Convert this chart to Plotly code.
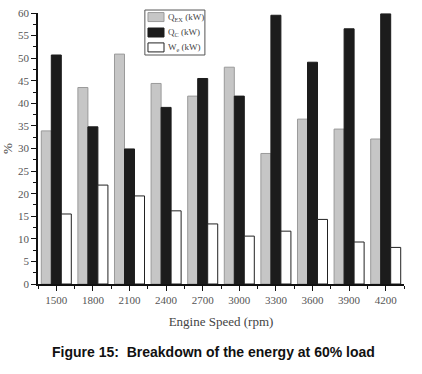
import plotly.graph_objects as go

speeds = [1500, 1800, 2100, 2400, 2700, 3000, 3300, 3600, 3900, 4200]
q_ex = [33.9, 43.5, 50.9, 44.4, 41.6, 48.0, 28.9, 36.5, 34.3, 32.1]
q_c = [50.7, 34.8, 29.9, 39.1, 45.5, 41.6, 59.5, 49.1, 56.5, 59.8]
w_e = [15.5, 21.9, 19.5, 16.2, 13.3, 10.6, 11.7, 14.3, 9.3, 8.1]
y_ticks = [0, 5, 10, 15, 20, 25, 30, 35, 40, 45, 50, 55, 60]
series_names = ["Q<sub>EX</sub> (kW)", "Q<sub>C</sub> (kW)", "W<sub>e</sub> (kW)"]
series_fill = ["#c6c6c6", "#1c1c1c", "#ffffff"]
series_line = ["#9a9a9a", "#1c1c1c", "#222222"]

serif = "Liberation Serif, Times New Roman, serif"

fig = go.Figure()
for vals, name, fc, lc in zip([q_ex, q_c, w_e], series_names, series_fill, series_line):
    fig.add_trace(go.Bar(x=speeds, y=vals, name=name,
                         marker=dict(color=fc, line=dict(color=lc, width=1))))

fig.update_layout(
    width=422, height=374,
    margin=dict(l=38, r=18, t=13, b=90),
    paper_bgcolor="white", plot_bgcolor="white",
    barmode="group", bargap=0.18, bargroupgap=0,
    font=dict(family=serif, size=11, color="#444"),
    showlegend=False,
)
fig.update_xaxes(
    range=[1350, 4350], tickmode="array", tickvals=speeds,
    ticktext=[str(s) for s in speeds], automargin=False,
    showline=True, linecolor="#111", linewidth=1.5,
    ticks="outside", ticklen=5, tickcolor="#111", tickwidth=1.2,
    minor=dict(tickmode="linear", tick0=1350, dtick=300, ticks="outside",
               ticklen=3, tickcolor="#111", tickwidth=1),
    showgrid=False, zeroline=False,
    tickfont=dict(family=serif, size=11, color="#555"),
    title=dict(text="Engine Speed (rpm)", font=dict(family=serif, size=13, color="#444"), standoff=12),
)
fig.update_yaxes(
    range=[0, 60], tickmode="array", tickvals=y_ticks, automargin=False,
    showline=True, linecolor="#111", linewidth=1.5,
    ticks="outside", ticklen=5, tickcolor="#111", tickwidth=1.2,
    minor=dict(tickmode="linear", tick0=0, dtick=2.5, ticks="outside",
               ticklen=3, tickcolor="#111", tickwidth=1),
    showgrid=False, zeroline=False,
    tickfont=dict(family=serif, size=11, color="#555"),
    title=dict(text="%", font=dict(family=serif, size=13, color="#444"), standoff=4),
)

# legend box (drawn in paper coordinates)
fig.add_shape(type="rect", xref="paper", yref="paper", x0=0.292, x1=0.456, y0=0.845, y1=1.011,
              line=dict(color="#555", width=1), fillcolor="white", layer="above")
row_y = [0.985, 0.928, 0.873]
for yy, name, fc, lc in zip(row_y, series_names, series_fill, series_line):
    fig.add_shape(type="rect", xref="paper", yref="paper", x0=0.3005, x1=0.3443,
                  y0=yy - 0.0166, y1=yy + 0.0166, line=dict(color=lc, width=1),
                  fillcolor=fc, layer="above")
    fig.add_annotation(text=name, xref="paper", yref="paper", x=0.350, y=yy,
                       xanchor="left", yanchor="middle", showarrow=False,
                       font=dict(family=serif, size=9, color="#444"))

fig.add_annotation(
    text="<b>Figure 15:  Breakdown of the energy at 60% load</b>",
    xref="paper", yref="paper", x=0.48, y=-0.25, xanchor="center", yanchor="middle",
    showarrow=False, font=dict(family="Liberation Sans, Arial, sans-serif", size=14, color="#111"),
)
fig.write_html("out.html", config={"displayModeBar": False},
               post_script="document.body.style.margin='0';")
